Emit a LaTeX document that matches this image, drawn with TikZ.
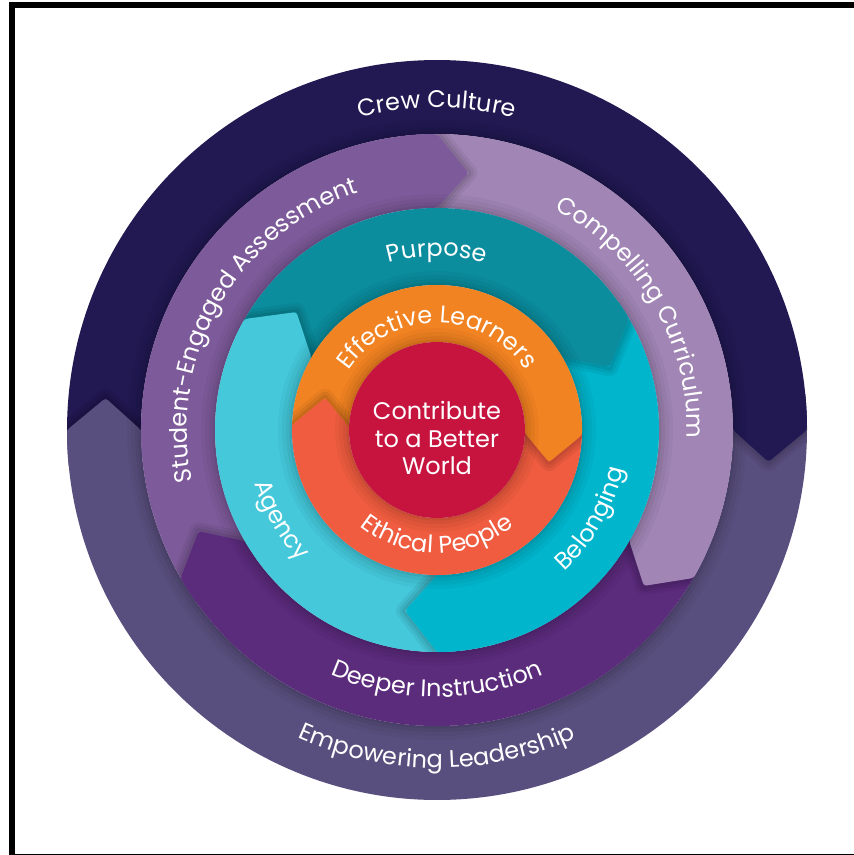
\documentclass[tikz,border=0pt]{standalone}
\usepackage{fontspec}
\setmainfont{Poppins}
\usetikzlibrary{calc,decorations.text}
\definecolor{crew}{HTML}{221852}
\definecolor{lead}{HTML}{594F7E}
\definecolor{sea}{HTML}{7D5A99}
\definecolor{curr}{HTML}{A085B5}
\definecolor{deep}{HTML}{5B2B7C}
\definecolor{purp}{HTML}{0B8D9E}
\definecolor{belong}{HTML}{00B5CC}
\definecolor{agency}{HTML}{44C8DA}
\definecolor{effl}{HTML}{F28322}
\definecolor{ethp}{HTML}{EF5C40}
\definecolor{core}{HTML}{C6143F}
\newcommand\lblfont{\fontsize{24}{28}\selectfont\color{white}}
% sector: color, Ri, Ro, start, end (clockwise)
\newcommand\sector[5]{%
  \fill[#1] ({#4+0.5}:#3) arc[start angle={#4+0.5}, end angle=#5, radius=#3]
    -- (#5:#2) arc[start angle=#5, end angle={#4+0.5}, radius=#2] -- cycle;}
% head piece: color, Ri, Ro, end angle, tip depth
\newcommand\head[5]{%
  \pgfmathsetmacro\hrm{(#2+#3)/2}%
  \pgfmathsetmacro\hta{#4-#5}%
  \coordinate (hA) at (#4:#3);
  \coordinate (hB) at (#4:#2);
  \coordinate (hT) at (\hta:\hrm);
  \begin{scope}
    \clip (0,0) circle[radius=#3];
    \clip ($(hT)!3!(hA)$) -- (hT) -- ($(hT)!3!(hB)$) -- ({#4-30}:{#2*0.6}) -- ({#4-30}:{#3*1.4}) -- cycle;
    \foreach \w/\o in {18/.05,12/.06,6/.07}{%
      \draw[black,opacity=\o,line width=\w pt,line join=round] ($(hT)!2!(hA)$) -- (hT) -- ($(hT)!2!(hB)$);}
  \end{scope}
  \fill[#1, rounded corners=3pt] ({#4+6}:#3) arc[start angle={#4+6}, end angle=#4, radius=#3]
    -- (hT) -- (hB) arc[start angle=#4, end angle={#4+6}, radius=#2] -- cycle;}
\newcommand\ringshadow[1]{%
  \foreach \w/\o in {28/.03,20/.035,12/.045,5/.06}{%
    \draw[black,opacity=\o,line width=\w pt] (0,0) circle[radius=#1];}}
% text clockwise (tops outward): radius, centre angle, half span, text
\newcommand\cwtext[4]{%
  \path[decorate,decoration={text along path,text align=center,text={|\lblfont|#4}}]
    ({#2+#3}:#1) arc[start angle={#2+#3}, end angle={#2-#3}, radius=#1];}
% text counter-clockwise (tops inward)
\newcommand\ccwtext[4]{%
  \path[decorate,decoration={text along path,text align=center,text={|\lblfont|#4}}]
    ({#2-#3}:#1) arc[start angle={#2-#3}, end angle={#2+#3}, radius=#1];}
\begin{document}
\begin{tikzpicture}[x=1pt,y=1pt]
\useasboundingbox (0,0) rectangle (854,-855);
\fill[white] (0,0) rectangle (854,-855);
\fill[black] (9,-2) rectangle (15,-855);
\fill[black] (9,-2) rectangle (854,-8);
\fill[black] (9,-853.5) rectangle (854,-855);
\begin{scope}[shift={(437,-430)}]
  % ring 1
  \sector{crew}{296}{370}{180}{0}
  \sector{lead}{296}{370}{0}{-180}
  \head{crew}{296}{370}{0}{5.5}
  \head{lead}{296}{370}{-180}{5.5}
  \ringshadow{296}
  % ring 2
  \sector{sea}{222}{296}{210}{90}
  \sector{curr}{222}{296}{90}{-30}
  \sector{deep}{222}{296}{-30}{-150}
  \head{sea}{222}{296}{90}{7}
  \head{curr}{222}{296}{-30}{7}
  \head{deep}{222}{296}{-150}{7}
  \ringshadow{222}
  % ring 3
  \sector{agency}{145}{222}{270}{150}
  \sector{purp}{145}{222}{150}{30}
  \sector{belong}{145}{222}{30}{-90}
  \head{agency}{145}{222}{150}{10}
  \head{purp}{145}{222}{30}{10}
  \head{belong}{145}{222}{-90}{10}
  \ringshadow{145}
  % ring 4
  \sector{effl}{88}{145}{178}{-2}
  \sector{ethp}{88}{145}{-2}{-182}
  \head{effl}{88}{145}{-2}{14}
  \head{ethp}{88}{145}{-182}{14}
  \ringshadow{88}
  \fill[core] (0,0) circle[radius=88];
  \node[align=center, text=white, font=\fontsize{24}{27.5}\selectfont] (corelbl) at (0,-8) {Contribute\\to a Better\\World};
  % labels
  \cwtext{322}{90}{60}{Crew Culture}
  \ccwtext{338}{-90}{60}{Empowering Leadership}
  \cwtext{250}{150}{60}{Student-Engaged Assessment}
  \cwtext{250}{30}{50}{Compelling Curriculum}
  \ccwtext{267}{-90}{50}{Deeper Instruction}
  \cwtext{174}{90}{40}{Purpose}
  \ccwtext{190}{210}{45}{Agency}
  \ccwtext{190}{-30}{45}{Belonging}
  \cwtext{107}{90}{80}{Effective Learners}
  \ccwtext{123}{-90}{70}{Ethical People}
\end{scope}
\end{tikzpicture}
\end{document}
